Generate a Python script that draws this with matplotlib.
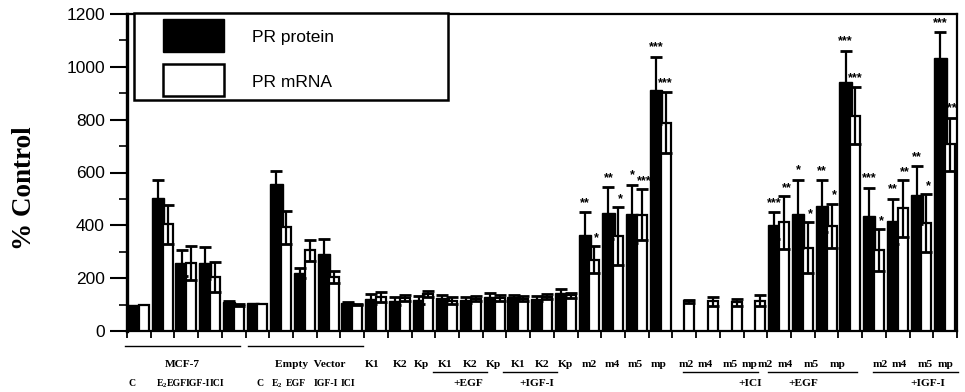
import matplotlib
matplotlib.use("Agg")
import matplotlib.pyplot as plt
from matplotlib.patches import Rectangle
import numpy as np

plt.rcParams['mathtext.fontset'] = 'custom'
plt.rcParams['mathtext.rm'] = 'Liberation Serif:bold'
plt.rcParams['mathtext.bf'] = 'Liberation Serif:bold'

# ---------------- data ----------------
groups = ["C", "E2", "EGF", "IGF-I", "ICI",
          "C", "E2", "EGF", "IGF-I", "ICI",
          "K1", "K2", "Kp", "K1", "K2", "Kp", "K1", "K2", "Kp",
          "m2", "m4", "m5", "mp",
          "m2", "m4", "m5", "mp",
          "m2", "m4", "m5", "mp",
          "m2", "m4", "m5", "mp"]

protein = [100, 505, 257, 257, 110,
           106, 557, 219, 291, 105,
           122, 115, 118, 125, 118, 130, 128, 122, 145,
           365, 447, 443, 911,
           0, 0, 0, 0,
           400, 443, 472, 944,
           437, 415, 514, 1032]
protein_err = [0, 65, 50, 62, 4,
               0, 48, 19, 58, 3,
               18, 15, 15, 10, 12, 15, 10, 10, 15,
               86, 97, 111, 127,
               0, 0, 0, 0,
               51, 130, 98, 117,
               105, 86, 110, 99]
mrna = [100, 404, 257, 206, 99,
        102, 392, 305, 204, 100,
        128, 125, 140, 115, 122, 125, 122, 130, 135,
        270, 360, 440, 789,
        112, 112, 108, 115,
        411, 315, 399, 814,
        307, 464, 408, 706]
mrna_err = [0, 73, 65, 57, 3,
            0, 64, 41, 22, 3,
            20, 12, 12, 12, 10, 12, 10, 10, 10,
            50, 110, 97, 116,
            6, 18, 15, 20,
            99, 96, 83, 108,
            79, 107, 110, 102]

sig_protein = [""] * 19 + ["**", "**", "*", "***",
                           "", "", "", "",
                           "***", "*", "**", "***",
                           "***", "**", "**", "***"]
sig_mrna = [""] * 19 + ["*", "*", "***", "***",
                        "", "", "", "",
                        "**", "*", "*", "***",
                        "*", "**", "*", "***"]

row1_labels = ["MCF-7", "Empty  Vector",
               "K1", "K2", "Kp", "K1", "K2", "Kp", "K1", "K2", "Kp",
               "m2", "m4", "m5", "mp",
               "m2", "m4", "m5", "mp",
               "m2", "m4", "m5", "mp",
               "m2", "m4", "m5", "mp"]
row2_labels = ["C", r"E$_\mathbf{2}$", "EGF", "IGF-I", "ICI",
               "C", r"E$_\mathbf{2}$", "EGF", "IGF-I", "ICI",
               "+EGF", "+IGF-I", "+ICI", "+EGF", "+IGF-I"]

# ---------------- layout ----------------
row1_x = [1.82, 7.22,
          9.85, 11.0, 11.9, 12.9, 13.95, 14.95, 16.0, 17.0, 18.0,
          19.0, 19.95, 20.95, 21.9,
          23.1, 23.87, 24.93, 25.77,
          26.4, 27.24, 28.34, 29.48,
          31.25, 32.08, 33.15, 34.02]
row2_x = [-0.30, 0.98, 1.60, 2.47, 3.30,
          5.11, 5.83, 6.63, 7.90, 8.82,
          13.88, 16.79, 25.77, 28.0, 33.28]
row2_size = [7] * 10 + [8.2] * 5
group_lines = [(-0.58, 4.27, -0.046), (4.6, 9.45, -0.046),
               (12.4, 14.68, -0.128), (15.36, 17.63, -0.128),
               (22.95, 26.1, -0.128), (26.53, 30.3, -0.128),
               (30.96, 34.54, -0.128)]

fig = plt.figure(figsize=(9.65, 3.92), dpi=100)
ax = fig.add_axes([127 / 965, 1 - 331 / 392, 830 / 965, 317 / 392])

x = np.arange(len(groups))
bw_p, bw_m = 0.52, 0.42
xp = x - 0.20
xm = x + 0.21

ax.bar(xp, protein, width=bw_p, color="black", edgecolor="black", linewidth=1, zorder=2)
ax.bar(xm, mrna, width=bw_m, color="white", edgecolor="black", linewidth=1.6, zorder=3)

pe = np.array(protein_err)
me = np.array(mrna_err)
mp_ = pe > 0
mm_ = me > 0
ax.errorbar(xp[mp_], np.array(protein)[mp_], yerr=pe[mp_], fmt="none", ecolor="black",
            elinewidth=1.6, capsize=4, capthick=2, zorder=4)
ax.errorbar(xm[mm_], np.array(mrna)[mm_], yerr=me[mm_], fmt="none", ecolor="black",
            elinewidth=1.6, capsize=4, capthick=2, zorder=4)

star_kw = dict(fontsize=9, fontweight="bold", family="Liberation Sans", color="black", zorder=5)
for i in range(len(groups)):
    if sig_protein[i]:
        ax.text(xp[i], protein[i] + protein_err[i] + 12, sig_protein[i],
                ha="center", va="bottom", **star_kw)
    if sig_mrna[i]:
        if groups[i] == "mp":
            ax.text(x[i] - 0.1, mrna[i] + mrna_err[i] + 12, sig_mrna[i],
                    ha="left", va="bottom", clip_on=False, **star_kw)
        else:
            ax.text(xm[i] + 0.1, mrna[i] + mrna_err[i] + 8, sig_mrna[i],
                    ha="center", va="bottom", **star_kw)

ax.set_xlim(-0.5, len(groups) - 0.5)
ax.set_ylim(0, 1200)
ax.set_yticks(np.arange(0, 1201, 200))
ax.set_yticks(np.arange(100, 1200, 200), minor=True)
ax.set_xticks(np.arange(-0.5, len(groups) + 0.5, 1.0))
ax.set_xticklabels([])
ax.tick_params(axis="y", which="major", length=12, width=1.5, direction="out",
               labelsize=12.5, pad=4)
ax.tick_params(axis="y", which="minor", length=6, width=1.2, direction="out")
ax.tick_params(axis="x", which="major", length=5, width=1.3, direction="out")
for lab in ax.get_yticklabels():
    lab.set_family("Liberation Sans")
ax.spines["left"].set_linewidth(2.4)
ax.spines["bottom"].set_linewidth(1.6)
ax.spines["top"].set_linewidth(1.6)
ax.spines["right"].set_linewidth(1.6)

# legend box (manual)
ax.add_patch(Rectangle((0.0084, 0.7287), 0.3783, 0.2743, transform=ax.transAxes,
                       facecolor="white", edgecolor="black", linewidth=1.8, zorder=6,
                       clip_on=False))
ax.add_patch(Rectangle((0.0434, 0.880), 0.0735, 0.104, transform=ax.transAxes,
                       facecolor="black", edgecolor="black", linewidth=1, zorder=7))
ax.add_patch(Rectangle((0.0434, 0.741), 0.0735, 0.101, transform=ax.transAxes,
                       facecolor="white", edgecolor="black", linewidth=1.8, zorder=7))
ax.text(0.1506, 0.927, "PR protein", transform=ax.transAxes, fontsize=12.5,
        family="Liberation Sans", va="center", ha="left", zorder=8)
ax.text(0.1506, 0.785, "PR mRNA", transform=ax.transAxes, fontsize=12.5,
        family="Liberation Sans", va="center", ha="left", zorder=8)

# y label
fig.text(25 / 965, 1 - 188 / 392, "% Control", rotation=90, ha="center", va="center",
         fontsize=19.5, fontweight="bold", family="Liberation Serif")

# x-axis labels
tr = ax.get_xaxis_transform()
lab_kw = dict(fontweight="bold", family="Liberation Serif",
              ha="center", va="center", transform=tr, clip_on=False)
for s, xx in zip(row1_labels, row1_x):
    ax.text(xx, -0.107, s, fontsize=8.2, **lab_kw)
for s, xx, fs in zip(row2_labels, row2_x, row2_size):
    ax.text(xx, -0.167, s, fontsize=fs, **lab_kw)
for x0, x1, yy in group_lines:
    ax.plot([x0, x1], [yy, yy], color="black", linewidth=1.0, transform=tr, clip_on=False)

fig.savefig("out.png", dpi=100)
